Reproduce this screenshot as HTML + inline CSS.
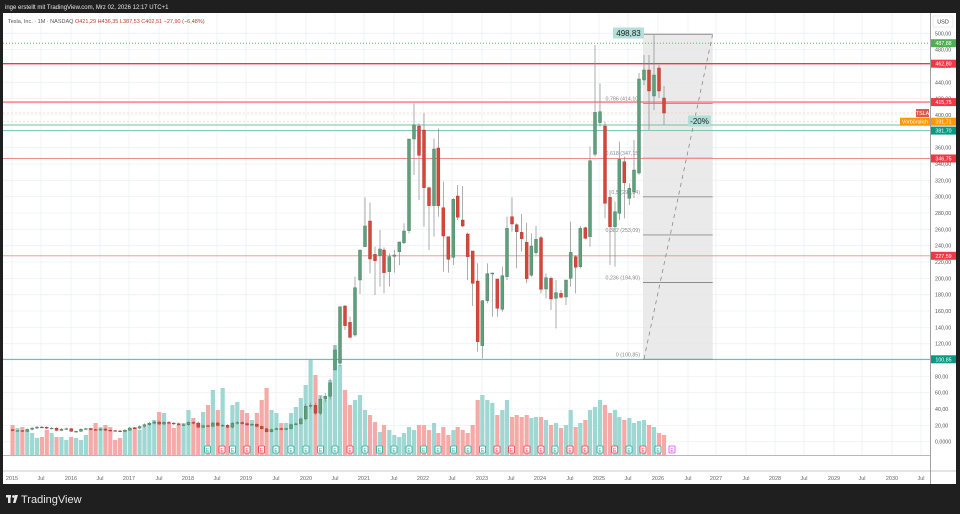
<!DOCTYPE html>
<html><head><meta charset="utf-8"><style>
html,body{margin:0;padding:0;background:#1f1f1f;width:960px;height:514px;overflow:hidden}
svg{display:block}
text{font-family:"Liberation Sans",sans-serif}
</style></head><body>
<svg id="s" width="960" height="514" viewBox="0 0 960 514" xmlns="http://www.w3.org/2000/svg">
<rect x="0" y="0" width="960" height="514" fill="#1f1f1f"/>
<text x="5" y="9" font-size="6" fill="#e8e8e8">inge erstellt mit TradingView.com, Mrz 02, 2026 12:17 UTC+1</text>
<rect x="3" y="13" width="953" height="471" fill="#ffffff"/>
<g id="g"></g>
<rect x="6" y="495" width="5" height="2.5" fill="#e8e8e8"/><rect x="8" y="495" width="2.5" height="8" fill="#e8e8e8"/>
<circle cx="13.5" cy="496.5" r="1.4" fill="#e8e8e8"/><polygon points="15,495 18,495 15.5,503 13,503" fill="#e8e8e8"/>
<text x="21" y="503" font-size="11" fill="#e8e8e8">TradingView</text>
</svg>
<script>
var o=[];
function Y(p){return 441.7-p*0.8168;}
var tl=[["2015",12],["Jul",41],["2016",71],["Jul",100],["2017",129],["Jul",159],["2018",188],["Jul",217],["2019",246],["Jul",276],["2020",306],["Jul",335],["2021",364],["Jul",394],["2022",423],["Jul",452],["2023",482],["Jul",511],["2024",540],["Jul",570],["2025",599],["Jul",628],["2026",658],["Jul",688],["2027",716],["Jul",746],["2028",775],["Jul",804],["2029",834],["Jul",862],["2030",892],["Jul",921]];
tl.forEach(function(t){o.push('<line x1="'+t[1]+'" y1="13" x2="'+t[1]+'" y2="455" stroke="#eef0f4" stroke-width="0.8"/>');
o.push('<text x="'+t[1]+'" y="480" font-size="5.5" fill="#666" text-anchor="middle">'+t[0]+'</text>');});
for(var p=0;p<=500;p+=20){var y=Y(p);o.push('<line x1="3" y1="'+y+'" x2="930" y2="'+y+'" stroke="#eef0f4" stroke-width="0.8"/>');
var s=p==0?"0,0000":(p.toFixed(2).replace(".",","));o.push('<text x="935" y="'+(y+2)+'" font-size="5.3" fill="#555">'+s+'</text>');}
var vol=[30,27,28,25,22,17,18,25,22,18,18,15,18,17,15,20,27,32,28,30,28,15,17,25,27,28,25,28,32,35,43,42,32,27,30,32,45,37,32,43,50,65,45,67,28,50,53,45,42,35,42,55,67,45,42,32,32,42,48,57,70,95,80,60,55,75,110,90,65,50,55,60,45,40,33,23,30,25,20,18,22,28,25,30,30,25,32,22,28,20,25,28,25,22,30,55,60,55,52,40,45,55,38,40,38,40,37,38,38,35,30,32,27,30,45,28,32,35,45,48,55,50,42,45,38,35,37,32,34,35,30,28,22,20,12];
var cl=[13.6,13.6,12.6,15.1,16.7,17.9,17.7,16.5,16.6,13.8,15.4,16.0,12.7,12.7,15.3,16.0,14.9,14.2,15.6,14.1,13.6,13.2,12.6,14.2,16.8,16.6,18.6,20.9,22.7,24.1,21.6,23.7,22.7,22.1,20.6,20.8,23.6,22.9,17.7,19.6,18.9,22.9,19.9,20.1,17.7,22.5,23.5,22.2,20.5,21.3,18.7,15.9,12.3,14.9,16.1,15.0,16.1,21.0,21.9,27.9,43.4,44.5,34.9,52.1,55.7,72.0];
var G="#5f9f7c",GS="#417a5c",R="#d5463b",RS="#a83429";
var prev=14.8;
function cand(x,t,b,g,wt,wb){o.push('<line x1="'+x+'" y1="'+wt+'" x2="'+x+'" y2="'+wb+'" stroke="#8a8a8a" stroke-width="0.7"/>');
o.push('<rect x="'+(x-1.5)+'" y="'+t+'" width="3" height="'+Math.max(0.8,b-t)+'" fill="'+(g?G:R)+'" stroke="'+(g?GS:RS)+'" stroke-width="0.4"/>');}
var cs=[];
for(var m=0;m<66;m++){var c=cl[m],op=prev,g=c>=op;var x=335-(66-m)*4.885;
var hi=Math.max(c,op)*1.07,lo=Math.min(c,op)*0.93;cs.push([x,Y(Math.max(c,op)),Y(Math.min(c,op)),g,Y(hi),Y(lo)]);prev=c;}
var z=[[15,780,840,1,765,840],[30,650,820,1,650,830],[45,648,707,0,645,720],[60,697,742,0,680,745],[75,593,735,1,560,740],[90,480,570,1,480,612],[105,408,470,1,322,470],[120,393,507,0,338,550],[135,493,512,0,470,615],[150,477,497,1,420,590],[162,480,548,0,472,610],[178,500,545,1,490,590],[193,495,499,1,480,548],[208,456,485,1,455,525],[222,423,458,1,400,462],[237,147,422,1,147,430],[252,105,147,1,40,255],[267,108,196,0,100,330],[282,120,293,0,70,410],[297,293,347,0,290,480],[312,177,347,1,145,440],[325,174,347,0,115,380],[340,353,438,0,275,545],[355,440,508,0,440,548],[370,328,502,1,325,525],[383,318,382,0,285,390],[398,390,408,0,288,412],[413,432,500,0,428,570],[428,483,580,0,483,648],[443,573,755,0,520,785],[457,632,767,1,630,805],[472,551,632,1,520,640],[487,549,552,1,548,680],[502,567,655,0,567,680],[517,557,658,1,530,665],[531,415,560,1,380,570],[546,380,402,0,322,425],[560,404,425,0,400,535],[575,427,446,0,372,485],[590,457,566,0,398,580],[604,468,556,1,430,560],[618,448,488,1,408,495],[633,443,598,0,438,610],[648,563,597,1,550,625],[663,565,627,0,560,660],[678,608,625,1,570,715],[693,610,622,0,600,625],[708,570,621,1,570,645],[722,487,565,1,395,590],[737,500,532,0,495,610],[751,415,530,1,408,535],[766,413,445,0,410,448],[780,212,440,1,170,470],[795,67,193,1,-135,200],[810,65,98,1,-20,110],[825,108,340,0,95,385],[840,322,410,0,300,525],[855,365,410,1,335,530],[868,208,370,1,155,390],[883,215,278,0,200,385],[898,295,325,1,280,345]];
z.forEach(function(a){cs.push([330+a[0]/3,90+a[1]/3,90+a[2]/3,!!a[3],90+a[4]/3,90+a[5]/3]);});
[[634,170,191.7,1,140,198],[639,79,173,1,73,175],[644,70,80,1,55,85],[649,70,91,0,55,130],[654,75,96,1,35,110],[659,68,91,0,65,98],[664,98,113,0,86,125]].forEach(function(a){cs.push([a[0],a[1],a[2],!!a[3],a[4],a[5]]);});
for(var i=0;i<vol.length&&i<cs.length;i++){var x=cs[i][0];o.push('<rect x="'+(x-2.1)+'" y="'+(455-vol[i])+'" width="4.2" height="'+vol[i]+'" fill="'+(cs[i][3]?"#9fd8d2":"#f6aaa8")+'"/>');}
var ex=[207.6,222,232.6,247,261.6,276,291,306,320.5,335,350,365,379.5,394,409,423.7,438,453.6,468,482.6,497,511.6,527,541,555,570,585,600,614.7,629,643,658,672];
var ec="grgrrgggggrgggggggggrrrrgrrgrgrgm";
ex.forEach(function(x,i){var c=ec[i]=="g"?"#26a69a":ec[i]=="r"?"#f23645":"#e040fb";
o.push('<rect x="'+(x-3)+'" y="446" width="6" height="7" rx="1" fill="#fff" stroke="'+c+'" stroke-width="0.8"/><text x="'+x+'" y="452" font-size="5" text-anchor="middle" fill="'+c+'">E</text>');});
o.push('<line x1="3" y1="455.5" x2="930" y2="455.5" stroke="#b8b8b8" stroke-width="1"/>');
o.push('<line x1="3" y1="471" x2="956" y2="471" stroke="#c8c8c8" stroke-width="1"/>');
o.push('<rect x="643" y="34.3" width="69.7" height="325" fill="#e6e6e6" opacity="0.85"/>');
[[1,498.83],[0.786,414.10],[0.618,347.15],[0.5,299.84],[0.382,253.09],[0.236,194.90],[0,100.85]].forEach(function(f){var y=Y(f[1]);
o.push('<line x1="643" y1="'+y+'" x2="712.7" y2="'+y+'" stroke="#8c8c8c" stroke-width="0.9"/>');
if(f[0]<1){var s=(f[0]==0?"0":String(f[0]).replace(".",","))+" ("+f[1].toFixed(2).replace(".",",")+")";o.push('<text x="640" y="'+(y-3)+'" font-size="5.3" fill="#8a8a8a" text-anchor="end">'+s+'</text>');}});
o.push('<line x1="3" y1="43.2" x2="930" y2="43.2" stroke="#4caf50" stroke-width="0.8" stroke-dasharray="1,2"/>');
o.push('<line x1="3" y1="63.7" x2="930" y2="63.7" stroke="#f23645" stroke-width="1.3"/>');
o.push('<line x1="3" y1="102.1" x2="930" y2="102.1" stroke="#f59aa1" stroke-width="2"/>');
o.push('<line x1="3" y1="113" x2="930" y2="113" stroke="#f5c0b0" stroke-width="0.6" stroke-dasharray="2,2"/>');
o.push('<line x1="3" y1="121.7" x2="930" y2="121.7" stroke="#ffd39a" stroke-width="0.6" stroke-dasharray="2,2"/>');
o.push('<line x1="3" y1="125" x2="930" y2="125" stroke="#6cc2b6" stroke-width="0.9"/>');
o.push('<line x1="3" y1="130.6" x2="930" y2="130.6" stroke="#6cc2b6" stroke-width="0.9"/>');
o.push('<line x1="3" y1="158.5" x2="930" y2="158.5" stroke="#f28a90" stroke-width="0.9"/>');
o.push('<line x1="3" y1="255.8" x2="930" y2="255.8" stroke="#f28a90" stroke-width="0.9"/>');
o.push('<line x1="3" y1="359.3" x2="930" y2="359.3" stroke="#3fae9c" stroke-width="0.9"/>');
cs.forEach(function(c){cand(c[0],c[1],c[2],c[3],c[4],c[5]);});
o.push('<line x1="644" y1="359" x2="712.5" y2="35" stroke="#8a8a8a" stroke-width="0.8" stroke-dasharray="4,4"/>');
o.push('<rect x="613" y="27.5" width="31" height="11" fill="#b2dfd8"/><text x="628.5" y="36" font-size="8" text-anchor="middle" fill="#1f1f1f">498,83</text>');
o.push('<rect x="688" y="115.5" width="23" height="11" fill="#b2dfd8"/><text x="699.5" y="124" font-size="8" text-anchor="middle" fill="#1f1f1f">-20%</text>');
o.push('<text x="8" y="23" font-size="5.5" fill="#555">Tesla, Inc. · 1M · NASDAQ  <tspan fill="#c0392b">O421,29  H436,35  L387,53  C402,51  −27,90 (−6,48%)</tspan></text>');
o.push('<line x1="930.5" y1="13" x2="930.5" y2="484" stroke="#8a8a8a" stroke-width="0.8"/>');
o.push('<rect x="933" y="16" width="20" height="11" fill="#fff" stroke="#ddd" stroke-width="0.5"/><text x="943" y="23.5" font-size="5.5" text-anchor="middle" fill="#333">USD</text>');
function tag(y,t,c,x,w){x=x||931;w=w||25;o.push('<rect x="'+x+'" y="'+(y-4)+'" width="'+w+'" height="8" fill="'+c+'"/><text x="'+(x+w/2)+'" y="'+(y+2)+'" font-size="5.3" text-anchor="middle" fill="#fff">'+t+'</text>');}
tag(43.2,"487,88","#4caf50");tag(63.7,"462,80","#f23645");tag(102.1,"415,75","#f23645");tag(121.7,"391,71","#ff9800");tag(130.6,"381,70","#089981");tag(158.5,"346,75","#f23645");tag(255.8,"227,59","#f23645");tag(359.3,"100,85","#089981");
tag(113,"TSLA","#e0574b",916,13);tag(121.7,"Vorbörslich","#ff9800",900,30);
document.getElementById("g").innerHTML=o.join("");
</script>
</body></html>
